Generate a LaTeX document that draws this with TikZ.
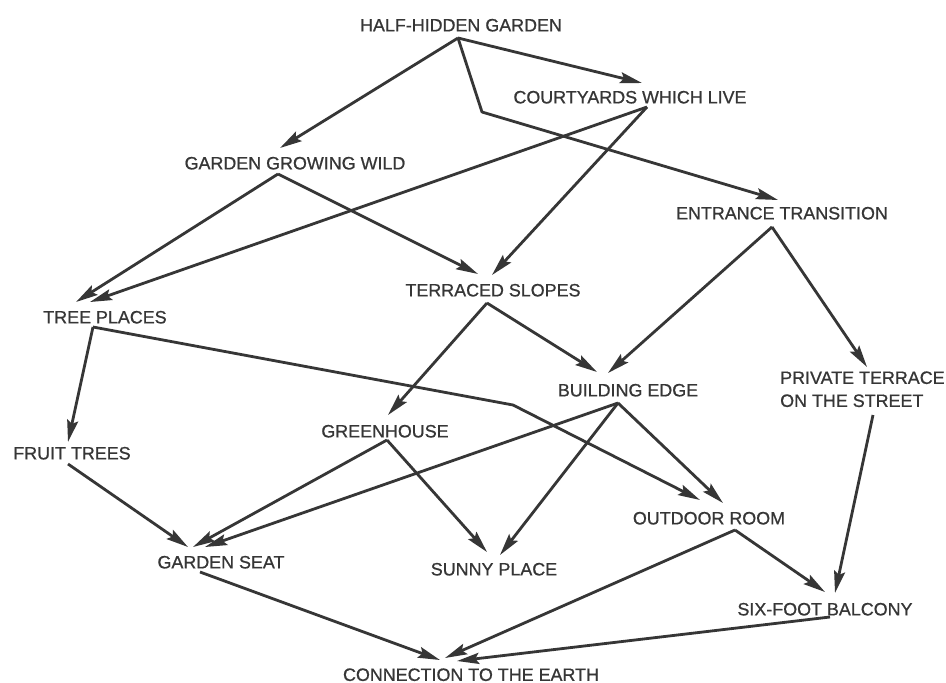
\documentclass[tikz,border=0pt]{standalone}
\usepackage{fontspec}
\setmainfont{Liberation Sans}
\newfontfamily\lettering{Liberation Sans}[UprightFeatures={FakeBold=0.8}]
\usetikzlibrary{arrows.meta}
\definecolor{ink}{HTML}{363636}
\begin{document}
\begin{tikzpicture}[x=1pt,y=-1pt,
  lbl/.style={font=\lettering\fontsize{17.9}{23}\selectfont, text=ink, inner sep=0pt, text height=12.8pt, text depth=0pt},
  conn/.style={draw=ink, line width=2.8pt, line join=round, -{Stealth[length=22pt,width=11pt,inset=3.5pt]}}]
\fill[white] (0,0) rectangle (946,683);
\useasboundingbox (0,0) rectangle (946,683);

% labels
\node[lbl] (hhg) at (461,25) {HALF-HIDDEN GARDEN};
\node[lbl] (cwl) at (630,97) {COURTYARDS WHICH LIVE};
\node[lbl] (ggw) at (295,163) {GARDEN GROWING WILD};
\node[lbl] (ent) at (782,213) {ENTRANCE TRANSITION};
\node[lbl] (tree) at (105,317) {TREE PLACES};
\node[lbl] (ter) at (493,290) {TERRACED SLOPES};
\node[lbl] (be) at (628,390) {BUILDING EDGE};
\node[font=\lettering\fontsize{17.9}{23}\selectfont, text=ink, inner sep=0pt, align=left, anchor=north west] (pt) at (780,371.2) {PRIVATE TERRACE\\ON THE STREET};
\node[lbl] (gh) at (385,431) {GREENHOUSE};
\node[lbl] (ft) at (72,453) {FRUIT TREES};
\node[lbl] (or) at (709,518) {OUTDOOR ROOM};
\node[lbl] (gs) at (221,562) {GARDEN SEAT};
\node[lbl] (sp) at (494,569) {SUNNY PLACE};
\node[lbl] (sfb) at (825,609) {SIX-FOOT BALCONY};
\node[lbl] (cte) at (471,674.5) {CONNECTION TO THE EARTH};

% connector ports
\coordinate (hhg-o) at (458,38);
\coordinate (cwl-i) at (642,83);
\coordinate (cwl-o) at (647,107);
\coordinate (ggw-i) at (280,148);
\coordinate (ggw-o) at (278,174);
\coordinate (ent-i) at (778,200);
\coordinate (ent-o) at (772,227);
\coordinate (tree-i1) at (76,302);
\coordinate (tree-i2) at (90,302);
\coordinate (tree-o) at (93,327);
\coordinate (ter-i1) at (478,274);
\coordinate (ter-i2) at (492,275);
\coordinate (ter-o) at (487,303);
\coordinate (be-i1) at (597,372);
\coordinate (be-i2) at (608,373);
\coordinate (be-o) at (618,403);
\coordinate (pt-i) at (867,367);
\coordinate (pt-o) at (873,415);
\coordinate (gh-i) at (388,415);
\coordinate (gh-o) at (387,440);
\coordinate (ft-i) at (68,442);
\coordinate (ft-o) at (68,464);
\coordinate (or-i1) at (700,500);
\coordinate (or-i2) at (723,503);
\coordinate (or-o) at (735,530);
\coordinate (gs-i1) at (188,547);
\coordinate (gs-i2) at (193,547);
\coordinate (gs-i3) at (205,547);
\coordinate (gs-o) at (200,572);
\coordinate (sp-i1) at (487,552);
\coordinate (sp-i2) at (500,555);
\coordinate (sfb-i1) at (825,592);
\coordinate (sfb-i2) at (835,593);
\coordinate (sfb-o) at (830,617);
\coordinate (cte-i1) at (440,660);
\coordinate (cte-i2) at (445,658);
\coordinate (cte-i3) at (457,661);
\coordinate (bendA) at (482,112);
\coordinate (bendB) at (513,405);

% connectors
\draw[conn] (hhg-o) -- (ggw-i);
\draw[conn] (hhg-o) -- (cwl-i);
\draw[conn] (hhg-o) -- (bendA) -- (ent-i);
\draw[conn] (cwl-o) -- (tree-i2);
\draw[conn] (cwl-o) -- (ter-i2);
\draw[conn] (ggw-o) -- (tree-i1);
\draw[conn] (ggw-o) -- (ter-i1);
\draw[conn] (ent-o) -- (be-i2);
\draw[conn] (ent-o) -- (pt-i);
\draw[conn] (ter-o) -- (gh-i);
\draw[conn] (ter-o) -- (be-i1);
\draw[conn] (tree-o) -- (ft-i);
\draw[conn] (tree-o) -- (bendB) -- (or-i1);
\draw[conn] (be-o) -- (gs-i3);
\draw[conn] (be-o) -- (sp-i2);
\draw[conn] (be-o) -- (or-i2);
\draw[conn] (pt-o) -- (sfb-i2);
\draw[conn] (gh-o) -- (gs-i2);
\draw[conn] (gh-o) -- (sp-i1);
\draw[conn] (ft-o) -- (gs-i1);
\draw[conn] (gs-o) -- (cte-i1);
\draw[conn] (or-o) -- (cte-i2);
\draw[conn] (or-o) -- (sfb-i1);
\draw[conn] (sfb-o) -- (cte-i3);
\end{tikzpicture}
\end{document}
